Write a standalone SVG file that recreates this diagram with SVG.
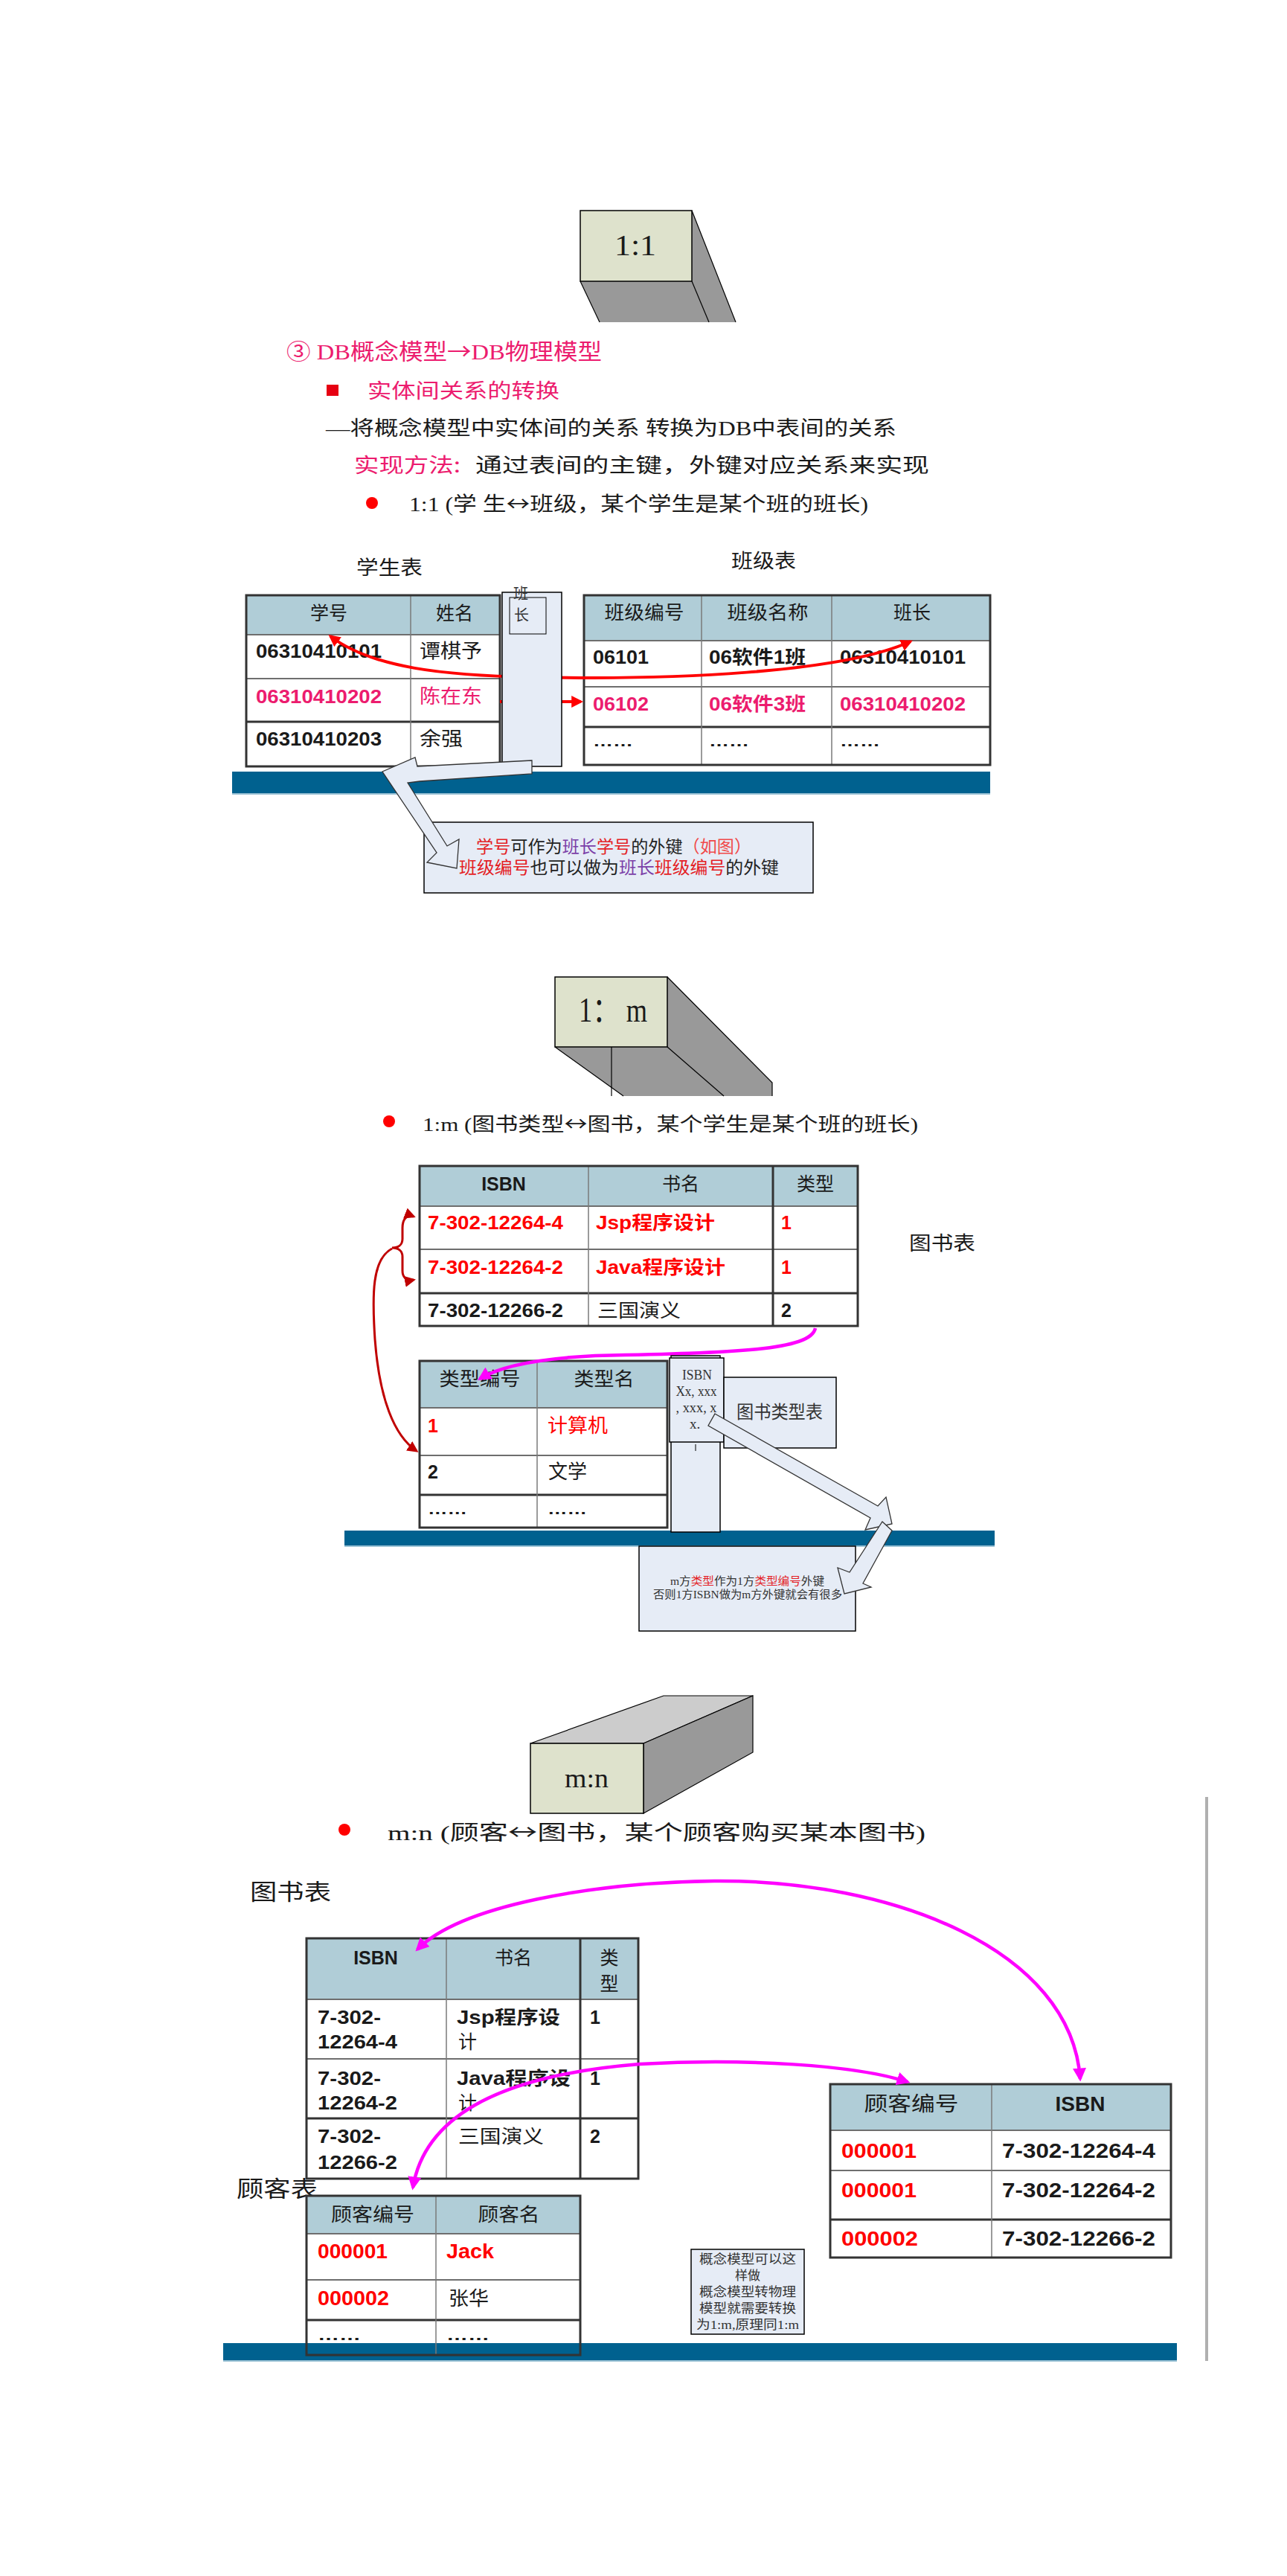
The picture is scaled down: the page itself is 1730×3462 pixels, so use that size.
<svg xmlns="http://www.w3.org/2000/svg" width="1730" height="3462" viewBox="0 0 1730 3462">
<style>
.hdr{fill:#b0cdd7}
.ob{fill:none;stroke:#333;stroke-width:3}
.rl{stroke:#6e6e6e;stroke-width:2}
.tl{stroke:#333;stroke-width:3}
.il{stroke:#7a7a7a;stroke-width:1.5}
.tn{font-family:"Liberation Sans","Noto Sans CJK SC",sans-serif;font-weight:700}
.tc{font-family:"Noto Sans CJK SC",sans-serif}
.ser{font-family:"Liberation Serif","Noto Sans CJK SC",serif}
.arw{font-family:"Noto Sans CJK SC",sans-serif}
.dk{fill:#1a1a1a}
.pk{fill:#ec1c6e}
.rd{fill:#ff0000}
.bar{fill:#00618f}
.barl{stroke:#9cc3d5;stroke-width:2}
.face{fill:#dee2cc;stroke:#000;stroke-width:1.5}
.gray{fill:#999}
.edge{fill:none;stroke:#000;stroke-width:1.2}
.note{fill:#e6ecf6;stroke:#000;stroke-width:1.5}
.blk{fill:#e6ecf6;stroke:#333;stroke-width:1.3}
.cred{fill:none;stroke:#f00;stroke-width:4}
.cmag{fill:none;stroke:#f0f;stroke-width:4.5}
.cdr{fill:none;stroke:#c00000;stroke-width:3}
</style>
<defs>
<marker id="mr" viewBox="0 0 10 10" refX="8" refY="5" markerWidth="4" markerHeight="4" orient="auto-start-reverse"><path d="M0,0L10,5L0,10z" fill="#f00"/></marker>
<marker id="mm" viewBox="0 0 10 10" refX="8" refY="5" markerWidth="4" markerHeight="4" orient="auto-start-reverse"><path d="M0,0L10,5L0,10z" fill="#f0f"/></marker>
<marker id="md" viewBox="0 0 10 10" refX="8" refY="5" markerWidth="5" markerHeight="5" orient="auto-start-reverse"><path d="M0,0L10,5L0,10z" fill="#c00000"/></marker>
</defs>
<rect width="1730" height="3462" fill="#fff"/>

<!-- blue bars -->
<g id="bars">
<rect x="312" y="1037" width="1019" height="30" class="bar"/>
<line x1="312" y1="1067" x2="1331" y2="1067" class="barl"/>
<rect x="463" y="2057" width="874" height="21" class="bar"/>
<line x1="463" y1="2078" x2="1337" y2="2078" class="barl"/>
<rect x="300" y="3149" width="1282" height="24" class="bar"/>
<line x1="300" y1="3173" x2="1582" y2="3173" class="barl"/>
<line x1="1622" y1="2415" x2="1622" y2="3173" stroke="#b0b0b0" stroke-width="4"/>
</g>

<!-- Section 1 -->
<g id="n-1to1">
<polygon points="780,378 930,378 953,433 806,433" class="gray"/>
<polygon points="930,283 989,433 953,433 930,378" class="gray"/>
<polyline points="780,378 806,433" class="edge"/>
<polyline points="930,378 953,433" class="edge"/>
<polyline points="930,283 989,433" class="edge"/>
<rect x="780" y="283" width="150" height="95" class="face"/>
<text x="826" y="343" font-size="40" textLength="56" lengthAdjust="spacingAndGlyphs" class="ser dk">1:1</text>
</g>

<g id="intro-text">
<text x="385" y="483" font-size="30" textLength="424" lengthAdjust="spacingAndGlyphs" class="ser pk">③ DB概念模型<tspan class="arw">→</tspan>DB物理模型</text>
<rect x="439" y="517" width="16" height="15" fill="#e60012"/>
<text x="494" y="535" font-size="27" textLength="258" lengthAdjust="spacingAndGlyphs" class="tc pk">实体间关系的转换</text>
<text x="438" y="585" font-size="27" textLength="767" lengthAdjust="spacingAndGlyphs" class="ser dk">—将概念模型中实体间的关系 转换为DB中表间的关系</text>
<text x="476" y="635" font-size="27" textLength="143" lengthAdjust="spacingAndGlyphs" class="tc pk">实现方法:</text>
<text x="639" y="635" font-size="27" textLength="610" lengthAdjust="spacingAndGlyphs" class="tc dk">通过表间的主键，外键对应关系来实现</text>
<circle cx="500" cy="676" r="8" fill="#f00"/>
<text x="550" y="687" font-size="27" textLength="617" lengthAdjust="spacingAndGlyphs" class="ser dk">1:1 (学 生<tspan class="arw">↔</tspan>班级，某个学生是某个班的班长)</text>
<text x="479" y="772" font-size="26" textLength="89" lengthAdjust="spacingAndGlyphs" class="tc dk">学生表</text>
<text x="983" y="763" font-size="26" textLength="87" lengthAdjust="spacingAndGlyphs" class="tc dk">班级表</text>
</g>

<g id="t-student">
<rect x="331" y="800" width="341" height="53" class="hdr"/>
<rect x="331" y="853" width="341" height="177" fill="#fff"/>
<line x1="331" y1="853" x2="672" y2="853" class="rl"/>
<line x1="331" y1="912" x2="672" y2="912" class="rl"/>
<line x1="331" y1="970" x2="672" y2="970" class="tl"/>
<line x1="552" y1="800" x2="552" y2="1030" class="il"/>
<rect x="331" y="800" width="341" height="230" class="ob"/>
<text x="442" y="833" font-size="25" text-anchor="middle" class="tc dk">学号</text>
<text x="611" y="833" font-size="25" text-anchor="middle" class="tc dk">姓名</text>
<text x="344" y="884" font-size="25" textLength="169" lengthAdjust="spacingAndGlyphs" class="tn dk">06310410101</text>
<text x="564" y="884" font-size="26" textLength="84" lengthAdjust="spacingAndGlyphs" class="tc dk">谭棋予</text>
<text x="344" y="945" font-size="25" textLength="169" lengthAdjust="spacingAndGlyphs" class="tn pk">06310410202</text>
<text x="564" y="945" font-size="26" textLength="84" lengthAdjust="spacingAndGlyphs" class="tc pk">陈在东</text>
<text x="344" y="1002" font-size="25" textLength="169" lengthAdjust="spacingAndGlyphs" class="tn dk">06310410203</text>
<text x="564" y="1002" font-size="26" textLength="58" lengthAdjust="spacingAndGlyphs" class="tc dk">余强</text>
</g>

<g id="t-class">
<rect x="785" y="800" width="546" height="61" class="hdr"/>
<rect x="785" y="861" width="546" height="167" fill="#fff"/>
<line x1="785" y1="861" x2="1331" y2="861" class="rl"/>
<line x1="785" y1="923" x2="1331" y2="923" class="rl"/>
<line x1="785" y1="977" x2="1331" y2="977" class="tl"/>
<line x1="943" y1="800" x2="943" y2="1028" class="il"/>
<line x1="1118" y1="800" x2="1118" y2="1028" class="il"/>
<rect x="785" y="800" width="546" height="228" class="ob"/>
<text x="866" y="832" font-size="25" text-anchor="middle" textLength="107" lengthAdjust="spacingAndGlyphs" class="tc dk">班级编号</text>
<text x="1032" y="832" font-size="25" text-anchor="middle" textLength="109" lengthAdjust="spacingAndGlyphs" class="tc dk">班级名称</text>
<text x="1226" y="832" font-size="25" text-anchor="middle" class="tc dk">班长</text>
<text x="797" y="892" font-size="25" textLength="75" lengthAdjust="spacingAndGlyphs" class="tn dk">06101</text>
<text x="953" y="892" font-size="25" textLength="130" lengthAdjust="spacingAndGlyphs" class="tn dk">06软件1班</text>
<text x="1129" y="892" font-size="25" textLength="169" lengthAdjust="spacingAndGlyphs" class="tn dk">06310410101</text>
<text x="797" y="955" font-size="25" textLength="75" lengthAdjust="spacingAndGlyphs" class="tn pk">06102</text>
<text x="953" y="955" font-size="25" textLength="130" lengthAdjust="spacingAndGlyphs" class="tn pk">06软件3班</text>
<text x="1129" y="955" font-size="25" textLength="169" lengthAdjust="spacingAndGlyphs" class="tn pk">06310410202</text>
<text x="797" y="1003" font-size="20" textLength="54" lengthAdjust="spacingAndGlyphs" class="tn dk">……</text>
<text x="953" y="1003" font-size="20" textLength="54" lengthAdjust="spacingAndGlyphs" class="tn dk">……</text>
<text x="1129" y="1003" font-size="20" textLength="54" lengthAdjust="spacingAndGlyphs" class="tn dk">……</text>
</g>

<!-- Section 2 -->
<g id="n-1tom">
<polygon points="746,1407 897,1407 973,1473 838,1473" class="gray"/>
<polygon points="897,1313 1038,1455 1038,1473 973,1473 897,1407" class="gray"/>
<polyline points="746,1407 838,1473" class="edge"/>
<polyline points="897,1407 973,1473" class="edge"/>
<polyline points="897,1313 1038,1455 1038,1473" class="edge"/>
<line x1="822" y1="1407" x2="822" y2="1473" stroke="#000" stroke-width="1.2"/>
<rect x="746" y="1313" width="151" height="94" class="face"/>
<text x="778" y="1373" font-size="46" textLength="92" lengthAdjust="spacingAndGlyphs" class="ser dk">1： m</text>
</g>

<g id="sec2-text">
<circle cx="523" cy="1507" r="8" fill="#f00"/>
<text x="568" y="1520" font-size="26" textLength="666" lengthAdjust="spacingAndGlyphs" class="ser dk">1:m (图书类型<tspan class="arw">↔</tspan>图书，某个学生是某个班的班长)</text>
<text x="1222" y="1680" font-size="26" textLength="89" lengthAdjust="spacingAndGlyphs" class="tc dk">图书表</text>
</g>

<g id="t-book2">
<rect x="564" y="1567" width="589" height="54" class="hdr"/>
<rect x="564" y="1621" width="589" height="161" fill="#fff"/>
<line x1="564" y1="1621" x2="1153" y2="1621" class="rl"/>
<line x1="564" y1="1679" x2="1153" y2="1679" class="rl"/>
<line x1="564" y1="1738" x2="1153" y2="1738" class="tl"/>
<line x1="791" y1="1567" x2="791" y2="1782" class="il"/>
<line x1="1039" y1="1567" x2="1039" y2="1782" class="tl"/>
<rect x="564" y="1567" width="589" height="215" class="ob"/>
<text x="677" y="1600" font-size="25" text-anchor="middle" class="tn dk">ISBN</text>
<text x="915" y="1600" font-size="25" text-anchor="middle" class="tc dk">书名</text>
<text x="1096" y="1600" font-size="25" text-anchor="middle" class="tc dk">类型</text>
<text x="575" y="1652" font-size="25" textLength="182" lengthAdjust="spacingAndGlyphs" class="tn rd">7-302-12264-4</text>
<text x="801" y="1652" font-size="25" textLength="160" lengthAdjust="spacingAndGlyphs" class="tn rd">Jsp程序设计</text>
<text x="1050" y="1652" font-size="25" class="tn rd">1</text>
<text x="575" y="1712" font-size="25" textLength="182" lengthAdjust="spacingAndGlyphs" class="tn rd">7-302-12264-2</text>
<text x="801" y="1712" font-size="25" textLength="174" lengthAdjust="spacingAndGlyphs" class="tn rd">Java程序设计</text>
<text x="1050" y="1712" font-size="25" class="tn rd">1</text>
<text x="575" y="1770" font-size="25" textLength="182" lengthAdjust="spacingAndGlyphs" class="tn dk">7-302-12266-2</text>
<text x="803" y="1770" font-size="25" textLength="112" lengthAdjust="spacingAndGlyphs" class="tc dk">三国演义</text>
<text x="1050" y="1770" font-size="25" class="tn dk">2</text>
</g>

<g id="t-type">
<rect x="564" y="1829" width="333" height="63" class="hdr"/>
<rect x="564" y="1892" width="333" height="161" fill="#fff"/>
<line x1="564" y1="1892" x2="897" y2="1892" class="rl"/>
<line x1="564" y1="1956" x2="897" y2="1956" class="rl"/>
<line x1="564" y1="2009" x2="897" y2="2009" class="tl"/>
<line x1="722" y1="1829" x2="722" y2="2053" class="il"/>
<rect x="564" y="1829" width="333" height="224" class="ob"/>
<text x="645" y="1862" font-size="25" text-anchor="middle" textLength="109" lengthAdjust="spacingAndGlyphs" class="tc dk">类型编号</text>
<text x="812" y="1862" font-size="25" text-anchor="middle" textLength="81" lengthAdjust="spacingAndGlyphs" class="tc dk">类型名</text>
<text x="575" y="1925" font-size="25" class="tn rd">1</text>
<text x="736" y="1925" font-size="26" textLength="81" lengthAdjust="spacingAndGlyphs" class="tc rd">计算机</text>
<text x="575" y="1987" font-size="25" class="tn dk">2</text>
<text x="737" y="1987" font-size="26" textLength="52" lengthAdjust="spacingAndGlyphs" class="tc dk">文学</text>
<text x="575" y="2035" font-size="20" textLength="53" lengthAdjust="spacingAndGlyphs" class="tn dk">……</text>
<text x="736" y="2035" font-size="20" textLength="53" lengthAdjust="spacingAndGlyphs" class="tn dk">……</text>
</g>

<!-- Section 3 -->
<g id="n-mton">
<polygon points="713,2343 865,2343 1012,2279 892,2279" fill="#ccc" stroke="#000" stroke-width="1.2"/>
<polygon points="865,2343 1012,2279 1012,2355 865,2437" class="gray" stroke="#000" stroke-width="1.2"/>
<rect x="713" y="2343" width="152" height="94" class="face"/>
<text x="759" y="2402" font-size="36" textLength="59" lengthAdjust="spacingAndGlyphs" class="ser dk">m:n</text>
</g>

<g id="sec3-text">
<circle cx="463" cy="2459" r="8" fill="#f00"/>
<text x="521" y="2473" font-size="28" textLength="723" lengthAdjust="spacingAndGlyphs" class="ser dk">m:n (顾客<tspan class="arw">↔</tspan>图书，某个顾客购买某本图书)</text>
<text x="336" y="2553" font-size="30" textLength="109" lengthAdjust="spacingAndGlyphs" class="tc dk">图书表</text>
<text x="318" y="2952" font-size="30" textLength="109" lengthAdjust="spacingAndGlyphs" class="tc dk">顾客表</text>
</g>

<g id="t-book3">
<rect x="412" y="2605" width="446" height="82" class="hdr"/>
<rect x="412" y="2687" width="446" height="241" fill="#fff"/>
<line x1="412" y1="2687" x2="858" y2="2687" class="rl"/>
<line x1="412" y1="2767" x2="858" y2="2767" class="rl"/>
<line x1="412" y1="2847" x2="858" y2="2847" class="tl"/>
<line x1="600" y1="2605" x2="600" y2="2928" class="il"/>
<line x1="780" y1="2605" x2="780" y2="2928" class="tl"/>
<rect x="412" y="2605" width="446" height="323" class="ob"/>
<text x="505" y="2640" font-size="25" text-anchor="middle" class="tn dk">ISBN</text>
<text x="690" y="2640" font-size="25" text-anchor="middle" class="tc dk">书名</text>
<text x="819" y="2640" font-size="25" text-anchor="middle" class="tc dk">类</text>
<text x="819" y="2675" font-size="25" text-anchor="middle" class="tc dk">型</text>
<text x="427" y="2720" font-size="25" textLength="85" lengthAdjust="spacingAndGlyphs" class="tn dk">7-302-</text>
<text x="427" y="2753" font-size="25" textLength="107" lengthAdjust="spacingAndGlyphs" class="tn dk">12264-4</text>
<text x="614" y="2720" font-size="25" textLength="139" lengthAdjust="spacingAndGlyphs" class="tn dk">Jsp程序设</text>
<text x="616" y="2753" font-size="25" class="tc dk">计</text>
<text x="793" y="2720" font-size="25" class="tn dk">1</text>
<text x="427" y="2802" font-size="25" textLength="85" lengthAdjust="spacingAndGlyphs" class="tn dk">7-302-</text>
<text x="427" y="2835" font-size="25" textLength="107" lengthAdjust="spacingAndGlyphs" class="tn dk">12264-2</text>
<text x="614" y="2802" font-size="25" textLength="153" lengthAdjust="spacingAndGlyphs" class="tn dk">Java程序设</text>
<text x="616" y="2835" font-size="25" class="tc dk">计</text>
<text x="793" y="2802" font-size="25" class="tn dk">1</text>
<text x="427" y="2880" font-size="25" textLength="85" lengthAdjust="spacingAndGlyphs" class="tn dk">7-302-</text>
<text x="427" y="2915" font-size="25" textLength="107" lengthAdjust="spacingAndGlyphs" class="tn dk">12266-2</text>
<text x="616" y="2880" font-size="25" textLength="115" lengthAdjust="spacingAndGlyphs" class="tc dk">三国演义</text>
<text x="793" y="2880" font-size="25" class="tn dk">2</text>
</g>

<g id="t-customer">
<rect x="412" y="2951" width="368" height="51" class="hdr"/>
<rect x="412" y="3002" width="368" height="147" fill="#fff"/>
<line x1="412" y1="3002" x2="780" y2="3002" class="rl"/>
<line x1="412" y1="3064" x2="780" y2="3064" class="rl"/>
<line x1="412" y1="3118" x2="780" y2="3118" class="tl"/>
<line x1="586" y1="2951" x2="586" y2="3165" class="il"/>
<rect x="412" y="2951" width="368" height="214" class="ob"/>
<text x="501" y="2985" font-size="25" text-anchor="middle" textLength="112" lengthAdjust="spacingAndGlyphs" class="tc dk">顾客编号</text>
<text x="684" y="2985" font-size="25" text-anchor="middle" textLength="83" lengthAdjust="spacingAndGlyphs" class="tc dk">顾客名</text>
<text x="427" y="3035" font-size="27" textLength="94" lengthAdjust="spacingAndGlyphs" class="tn rd">000001</text>
<text x="600" y="3035" font-size="27" textLength="64" lengthAdjust="spacingAndGlyphs" class="tn rd">Jack</text>
<text x="427" y="3098" font-size="27" textLength="96" lengthAdjust="spacingAndGlyphs" class="tn rd">000002</text>
<text x="603" y="3098" font-size="26" textLength="54" lengthAdjust="spacingAndGlyphs" class="tc dk">张华</text>
<text x="427" y="3145" font-size="20" textLength="58" lengthAdjust="spacingAndGlyphs" class="tn dk">……</text>
<text x="600" y="3145" font-size="20" textLength="58" lengthAdjust="spacingAndGlyphs" class="tn dk">……</text>
</g>

<g id="t-order">
<rect x="1116" y="2801" width="458" height="62" class="hdr"/>
<rect x="1116" y="2863" width="458" height="171" fill="#fff"/>
<line x1="1116" y1="2863" x2="1574" y2="2863" class="rl"/>
<line x1="1116" y1="2917" x2="1574" y2="2917" class="rl"/>
<line x1="1116" y1="2983" x2="1574" y2="2983" class="tl"/>
<line x1="1333" y1="2801" x2="1333" y2="3034" class="il"/>
<rect x="1116" y="2801" width="458" height="233" class="ob"/>
<text x="1225" y="2837" font-size="27" text-anchor="middle" textLength="127" lengthAdjust="spacingAndGlyphs" class="tc dk">顾客编号</text>
<text x="1452" y="2837" font-size="28" text-anchor="middle" class="tn dk">ISBN</text>
<text x="1131" y="2900" font-size="28" textLength="101" lengthAdjust="spacingAndGlyphs" class="tn rd">000001</text>
<text x="1347" y="2900" font-size="28" textLength="206" lengthAdjust="spacingAndGlyphs" class="tn dk">7-302-12264-4</text>
<text x="1131" y="2953" font-size="28" textLength="101" lengthAdjust="spacingAndGlyphs" class="tn rd">000001</text>
<text x="1347" y="2953" font-size="28" textLength="206" lengthAdjust="spacingAndGlyphs" class="tn dk">7-302-12264-2</text>
<text x="1131" y="3018" font-size="28" textLength="103" lengthAdjust="spacingAndGlyphs" class="tn rd">000002</text>
<text x="1347" y="3018" font-size="28" textLength="206" lengthAdjust="spacingAndGlyphs" class="tn dk">7-302-12266-2</text>
</g>

<g id="n-note3">
<rect x="929" y="3023" width="152" height="114" class="note"/>
<g font-size="17" text-anchor="middle" class="ser" fill="#333">
<text x="1005" y="3042" textLength="130" lengthAdjust="spacingAndGlyphs">概念模型可以这</text>
<text x="1005" y="3064">样做</text>
<text x="1005" y="3086" textLength="130" lengthAdjust="spacingAndGlyphs">概念模型转物理</text>
<text x="1005" y="3108" textLength="130" lengthAdjust="spacingAndGlyphs">模型就需要转换</text>
<text x="1005" y="3130" textLength="138" lengthAdjust="spacingAndGlyphs">为1:m,原理同1:m</text>
</g>
</g>

<!-- connectors -->
<g id="connectors">
<path d="M444,855 C500,898 600,908 715,910 C900,914 1130,905 1224,862" class="cred" marker-start="url(#mr)" marker-end="url(#mr)"/>
<path d="M672,943 L781,943" class="cred" marker-end="url(#mr)"/>
<path d="M556,1635 C546,1631 541,1640 541,1650 L541,1665 C541,1673 535,1677 527,1677 C535,1677 541,1681 541,1689 L541,1708 C541,1716 546,1722 556,1720" class="cdr" marker-start="url(#md)" marker-end="url(#md)"/>
<path d="M527,1678 C500,1692 500,1740 504,1800 C510,1880 530,1930 560,1950" class="cdr" marker-end="url(#md)"/>
<path d="M1096,1785 C1090,1815 990,1818 800,1822 C720,1826 672,1836 645,1853" class="cmag" marker-end="url(#mm)"/>
<path d="M561,2620 C620,2560 800,2530 960,2528 C1200,2526 1440,2620 1452,2794" class="cmag" marker-start="url(#mm)" marker-end="url(#mm)"/>
<path d="M555,2940 C570,2850 660,2790 860,2774 C1000,2766 1150,2775 1220,2798" class="cmag" marker-start="url(#mm)" marker-end="url(#mm)"/>
</g>

<!-- overlay nodes -->
<g id="n-banzhang">
<rect x="675" y="796" width="80" height="234" class="note" stroke-width="1.2"/>
<rect x="685" y="803" width="49" height="49" fill="none" stroke="#000" stroke-width="1"/>
<text x="690" y="805" font-size="20" class="ser" fill="#333">班</text>
<text x="691" y="834" font-size="20" class="ser" fill="#333">长</text>
</g>

<g id="n-note1">
<rect x="570" y="1105" width="523" height="95" class="note"/>
<text x="640" y="1146" font-size="23" textLength="370" lengthAdjust="spacingAndGlyphs" class="tc"><tspan fill="#e41e25">学号</tspan><tspan fill="#222">可作为</tspan><tspan fill="#7b3fa8">班长</tspan><tspan fill="#e41e25">学号</tspan><tspan fill="#222">的外键</tspan><tspan fill="#f04a4a">（如图）</tspan></text>
<text x="617" y="1174" font-size="23" textLength="430" lengthAdjust="spacingAndGlyphs" class="tc"><tspan fill="#e41e25">班级编号</tspan><tspan fill="#222">也可以做为</tspan><tspan fill="#7b3fa8">班长</tspan><tspan fill="#e41e25">班级编号</tspan><tspan fill="#222">的外键</tspan></text>
</g>

<g id="n-isbn">
<rect x="902" y="1822" width="66" height="237" class="note" stroke-width="1.2"/>
<rect x="900" y="1825" width="73" height="113" class="note" stroke-width="1.2"/>
<line x1="935" y1="1941" x2="935" y2="1950" stroke="#000" stroke-width="1"/>
<g font-size="19" text-anchor="middle" class="ser" fill="#333">
<text x="937" y="1854" textLength="40" lengthAdjust="spacingAndGlyphs">ISBN</text>
<text x="936" y="1876" textLength="55" lengthAdjust="spacingAndGlyphs">Xx, xxx</text>
<text x="936" y="1898" textLength="55" lengthAdjust="spacingAndGlyphs">, xxx, x</text>
<text x="934" y="1920">x.</text>
</g>
</g>

<g id="n-booktype">
<rect x="973" y="1851" width="151" height="95" class="note"/>
<text x="990" y="1906" font-size="24" textLength="116" lengthAdjust="spacingAndGlyphs" class="tc" fill="#333">图书类型表</text>
</g>

<g id="n-note2">
<rect x="859" y="2078" width="291" height="114" class="note"/>
<text x="901" y="2130" font-size="15" textLength="207" lengthAdjust="spacingAndGlyphs" class="ser"><tspan fill="#333">m方</tspan><tspan fill="#e41e25">类型</tspan><tspan fill="#333">作为1方</tspan><tspan fill="#e41e25">类型编号</tspan><tspan fill="#333">外键</tspan></text>
<text x="878" y="2148" font-size="15" textLength="254" lengthAdjust="spacingAndGlyphs" class="ser" fill="#333">否则1方ISBN做为m方外键就会有很多</text>
</g>

<g id="block-arrows">
<polygon points="715,1022 561,1030 558,1018 514,1037 587,1146 574,1159 614,1167 617,1128 601,1137 548,1052 564,1050 715,1040" class="blk"/>
<polygon points="961,1900 1180,2024 1191,2012 1199,2048 1163,2056 1170,2040 952,1916" class="blk"/>
<polygon points="1186,2045 1199,2057 1160,2128 1171,2133 1135,2142 1126,2107 1142,2113" class="blk"/>
</g>
</svg>
